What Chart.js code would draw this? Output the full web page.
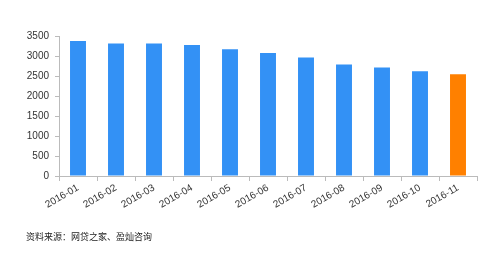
<!DOCTYPE html>
<html lang="zh">
<head>
  <meta charset="UTF-8">
  <title>网贷平台数量</title>
  <style>
    html, body { margin: 0; padding: 0; background: #fff; }
    #wrap { position: relative; width: 500px; height: 253px; }
    #source {
      position: absolute;
      left: 26px;
      top: 230px;
      font: 9px "Noto Sans CJK SC", sans-serif;
      color: #222;
      white-space: nowrap;
    }
  </style>
</head>
<body>
  <div id="wrap">
    <canvas id="myChart" width="500" height="253"></canvas>
    <div id="source">资料来源：网贷之家、盈灿咨询</div>
  </div>

  <script src="https://cdn.jsdelivr.net/npm/chart.js@4.4.2/dist/chart.umd.min.js"></script>
  <script>
    // months on the x axis
    const months = ['2016-01', '2016-02', '2016-03', '2016-04', '2016-05', '2016-06',
                    '2016-07', '2016-08', '2016-09', '2016-10', '2016-11'];
    // values
    const counts = [3375, 3310, 3310, 3275, 3170, 3075, 2960, 2785, 2710, 2620, 2545];
    const yTicks = [0, 500, 1000, 1500, 2000, 2500, 3000, 3500];

    const blue = '#3391f5';
    const orange = '#ff8000';
    const barColors = counts.map((v, i) => i === counts.length - 1 ? orange : blue);

    const ctx = document.getElementById('myChart').getContext('2d');

    const chart = new Chart(ctx, {
      type: 'bar',
      data: {
        labels: months,
        datasets: [{
          data: counts,
          backgroundColor: barColors,
          borderWidth: 0,
          categoryPercentage: 1,
          barPercentage: 0.42
        }]
      },
      options: {
        responsive: false,
        animation: false,
        devicePixelRatio: 1,
        layout: { padding: { top: 36, right: 23, left: 0, bottom: 0 } },
        plugins: {
          legend: { display: false },
          tooltip: { enabled: false }
        },
        scales: {
          x: {
            grid: { drawOnChartArea: false, tickLength: 5, color: '#bbb', offset: true },
            border: { color: '#bbb' },
            ticks: {
              maxRotation: 30,
              minRotation: 30,
              padding: 1,
              color: '#333',
              font: { family: 'Liberation Sans', size: 10 }
            },
            afterFit: (scale) => { scale.height = 77; }
          },
          y: {
            min: 0,
            max: 3500,
            afterBuildTicks: (scale) => { scale.ticks = yTicks.map(v => ({ value: v })); },
            grid: { drawOnChartArea: false, tickLength: 4, color: '#bbb' },
            border: { color: '#bbb' },
            ticks: {
              padding: 6,
              color: '#333',
              font: { family: 'Liberation Sans', size: 10 },
              callback: (v) => String(v)
            },
            afterFit: (scale) => { scale.width = 59; }
          }
        }
      }
    });
  </script>
</body>
</html>
